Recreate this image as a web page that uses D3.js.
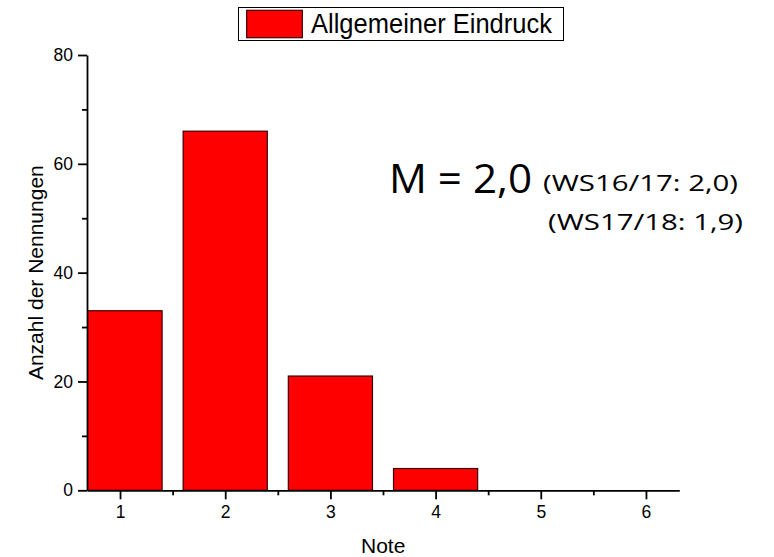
<!DOCTYPE html>
<html>
<head>
<meta charset="utf-8">
<script src="https://cdn.jsdelivr.net/npm/d3@7"></script>
<style>
  html, body { margin: 0; padding: 0; background: #fff; }
  svg { display: block; }
</style>
</head>
<body>
<script>
// ---- data ----
const notes = [1, 2, 3, 4, 5, 6];
const counts = [33, 66, 21, 4, 0, 0];
const yTicks = [0, 20, 40, 60, 80];
const yMinorTicks = [10, 30, 50, 70];
const xMinorTicks = [1.5, 2.5, 3.5, 4.5, 5.5];
const seriesName = "Allgemeiner Eindruck";
const xTitle = "Note";
const yTitle = "Anzahl der Nennungen";
const meanText = "M = 2,0";
const prevTexts = ["(WS16/17: 2,0)", "(WS17/18: 1,9)"];

// ---- layout ----
const W = 774, H = 557;
const svg = d3.select("body").append("svg").attr("width", W).attr("height", H);

const x = d3.scaleLinear().domain([0.686, 6.317]).range([87, 679.3]);
const y = d3.scaleLinear().domain([0, 80]).range([490.3, 55]);
const barW = 0.8;

const axisColor = "#000";
const font = "'Liberation Sans', Arial, sans-serif";

svg.append("defs").append("clipPath").attr("id", "plotclip")
  .append("rect").attr("x", x.range()[0]).attr("y", y.range()[1] - 2)
  .attr("width", x.range()[1] - x.range()[0]).attr("height", y.range()[0] - y.range()[1] + 2);

// bars
svg.append("g").attr("clip-path", "url(#plotclip)")
  .selectAll("rect").data(notes.map((n, i) => ({n, v: counts[i]})).filter(d => d.v > 0))
  .join("rect")
  .attr("x", d => x(d.n - barW / 2))
  .attr("y", d => y(d.v))
  .attr("width", d => x(d.n + barW / 2) - x(d.n - barW / 2))
  .attr("height", d => y(0) - y(d.v))
  .attr("fill", "#ff0000")
  .attr("stroke", "#3a0000")
  .attr("stroke-width", 1.2);

// y axis
const yAxis = svg.append("g").attr("transform", `translate(${x.range()[0]},0)`)
  .call(d3.axisLeft(y).tickValues(yTicks).tickSize(9).tickPadding(5).tickSizeOuter(0));
yAxis.selectAll("text").attr("font-family", font).attr("font-size", 17.5).attr("fill", "#000");
const yMinor = svg.append("g").attr("transform", `translate(${x.range()[0]},0)`)
  .call(d3.axisLeft(y).tickValues(yMinorTicks).tickSize(5).tickFormat("").tickSizeOuter(0));
yMinor.select(".domain").remove();

// x axis
const xAxis = svg.append("g").attr("transform", `translate(0,${y.range()[0]})`)
  .call(d3.axisBottom(x).tickValues(notes).tickSize(9).tickPadding(6).tickSizeOuter(0).tickFormat(d3.format("d")));
xAxis.selectAll("text").attr("font-family", font).attr("font-size", 17.5).attr("fill", "#000");
const xMinor = svg.append("g").attr("transform", `translate(0,${y.range()[0]})`)
  .call(d3.axisBottom(x).tickValues(xMinorTicks).tickSize(5).tickFormat("").tickSizeOuter(0));
xMinor.select(".domain").remove();

svg.selectAll(".domain").attr("stroke", axisColor).attr("stroke-width", 1.8);
svg.selectAll(".tick line").attr("stroke", axisColor).attr("stroke-width", 1.8);

// axis titles
svg.append("text")
  .attr("x", (x.range()[0] + x.range()[1]) / 2).attr("y", 552.5)
  .attr("text-anchor", "middle").attr("font-family", font).attr("font-size", 21)
  .text(xTitle);
svg.append("text")
  .attr("transform", `translate(43,${(y.range()[0] + y.range()[1]) / 2}) rotate(-90)`)
  .attr("text-anchor", "middle").attr("font-family", font).attr("font-size", 21)
  .text(yTitle);

// legend
const lg = svg.append("g");
lg.append("rect").attr("x", 238.5).attr("y", 7.5).attr("width", 325).attr("height", 33)
  .attr("fill", "#fff").attr("stroke", "#000").attr("stroke-width", 1);
lg.append("rect").attr("x", 246.7).attr("y", 10.3).attr("width", 55.6).attr("height", 27.4)
  .attr("fill", "#ff0000").attr("stroke", "#3a0000").attr("stroke-width", 1.2);
lg.append("text").attr("x", 311).attr("y", 33).attr("font-family", font).attr("font-size", 27)
  .attr("textLength", 241).attr("lengthAdjust", "spacingAndGlyphs")
  .text(seriesName);

// annotation
const afont = "'Open Sans', 'Noto Sans', sans-serif";
svg.append("text").attr("x", 389).attr("y", 193).attr("font-family", afont).attr("font-size", 40)
  .attr("textLength", 143).attr("lengthAdjust", "spacingAndGlyphs").text(meanText);
svg.append("text").attr("x", 543).attr("y", 191).attr("font-family", afont).attr("font-size", 22)
  .attr("textLength", 195).attr("lengthAdjust", "spacingAndGlyphs").text(prevTexts[0]);
svg.append("text").attr("x", 548).attr("y", 230).attr("font-family", afont).attr("font-size", 22)
  .attr("textLength", 195).attr("lengthAdjust", "spacingAndGlyphs").text(prevTexts[1]);
</script>
</body>
</html>
